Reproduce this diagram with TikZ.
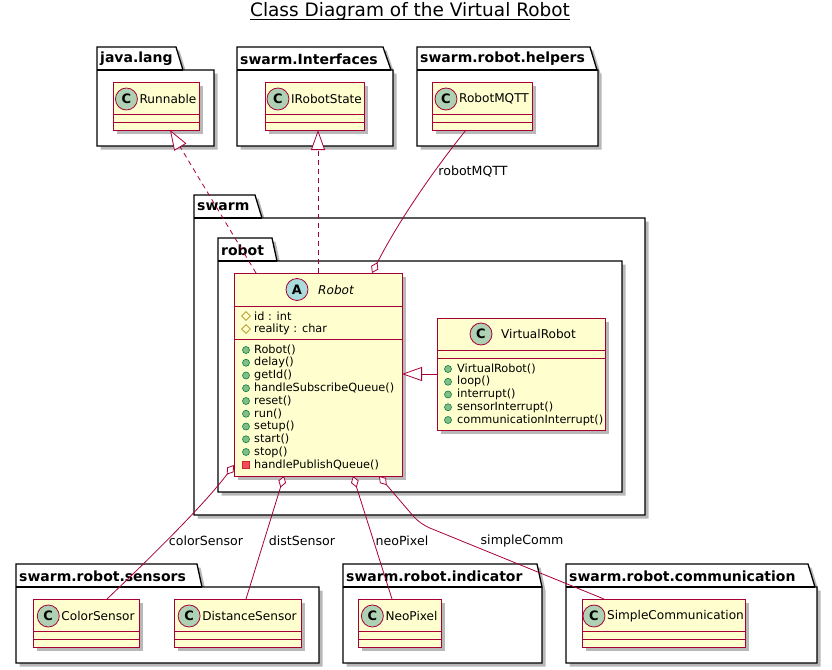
\documentclass[tikz,border=0pt]{standalone}
\usepackage{fontspec}
\setmainfont{DejaVu Sans}
\usetikzlibrary{arrows.meta,shadows,calc,shapes.geometric}
\definecolor{umlred}{HTML}{A80036}
\definecolor{umlfill}{HTML}{FEFECE}
\definecolor{circC}{HTML}{ADD1B2}
\definecolor{circA}{HTML}{A9DCDF}
\definecolor{protdraw}{HTML}{B38D22}
\definecolor{pubdraw}{HTML}{038048}
\definecolor{pubfill}{HTML}{84BE84}
\definecolor{privdraw}{HTML}{C82930}
\definecolor{privfill}{HTML}{F24D5C}
\newcommand\myfs[1]{\fontsize{#1}{#1}\selectfont}
\tikzset{
  shd/.style={drop shadow={shadow xshift=3.5pt, shadow yshift=-3.5pt, opacity=0.28, fill=black}},
  cls/.style={rectangle, draw=umlred, fill=umlfill, line width=0.9pt, inner sep=0pt, outer sep=0pt, anchor=north west, shd},
  sep/.style={draw=umlred, line width=0.9pt},
  cicon/.style={circle, draw=umlred, line width=0.8pt, minimum size=22pt, inner sep=0pt, font=\myfs{13}\bfseries},
  cname/.style={anchor=west, inner sep=0pt, font=\myfs{12.1}},
  member/.style={anchor=west, inner sep=0pt, font=\myfs{11.3}},
  pub/.style={circle, draw=pubdraw, fill=pubfill, minimum size=7pt, inner sep=0pt, line width=0.6pt},
  prot/.style={diamond, draw=protdraw, minimum size=9pt, inner sep=0pt, line width=0.7pt},
  priv/.style={rectangle, draw=privdraw, fill=privfill, minimum size=7pt, inner sep=0pt, line width=0.6pt},
  pkgline/.style={draw=black, line width=1.3pt, fill=white, shd},
  pkgedge/.style={draw=black, line width=1.3pt},
  pkglabel/.style={anchor=west, inner sep=0pt, font=\myfs{14}\bfseries},
  conn/.style={draw=umlred, line width=0.8pt},
  lbl/.style={inner sep=0pt, font=\myfs{12.6}},
  realize/.style={conn, dash pattern=on 5pt off 4pt, -{Triangle[open, fill=white, length=20pt, width=14pt]}},
  inherit/.style={conn, -{Triangle[open, fill=white, length=20pt, width=14pt]}},
  aggr/.style={conn, {Diamond[open, fill=white, length=12pt, width=8pt]}-},
}
% id, x0, tabtop, tab top-right, slant end, body top, right, bottom, label
\newcommand\umlpkg[9]{%
  \path[pkgline] (#2,#6) -- (#2,#3) -- (#4,#3) -- (#5,#6) -- (#7,#6) -- (#7,#8) -- (#2,#8) -- cycle;
  \draw[pkgedge] (#2,#6) -- (#5,#6);
  \node[pkglabel] (#1) at ({#2+3},{(#3+#6)/2+0.5}) {#9};
}
% id, x0, y0, width, name
\newcommand\smallcls[5]{%
  \node[cls, minimum width=#4pt, minimum height=48pt] (#1) at (#2,#3) {};
  \draw[sep] ($(#1.north west)+(0,32)$) -- ($(#1.north east)+(0,32)$);
  \draw[sep] ($(#1.north west)+(0,40)$) -- ($(#1.north east)+(0,40)$);
  \node[cname, anchor=center] (#1-name) at ($(#1.north)+(12,17)$) {#5};
  \node[cicon, fill=circC] (#1-icon) at ($(#1-name.west)+(-13,0)$) {C};
}
\begin{document}
\begin{tikzpicture}[x=1pt,y=-1pt]
\useasboundingbox (0,0) rectangle (832,669);

% title
\node[inner sep=0pt, anchor=base, font=\myfs{18.5}] (title) at (410,17) {Class Diagram of the Virtual Robot};
\draw[line width=0.9pt] ($(title.base west)+(0,2.5)$) -- ($(title.base east)+(0,2.5)$);

% packages
\umlpkg{pjava}{97}{47}{176}{183}{70}{214}{146}{java.lang}
\umlpkg{pintf}{237}{47}{383}{391}{70}{393}{146}{swarm.Interfaces}
\umlpkg{phelp}{417}{47}{590}{597}{70}{598}{146}{swarm.robot.helpers}
\umlpkg{pswarm}{194}{195}{255}{262}{218}{645}{515}{swarm}
\umlpkg{probot}{218}{238}{272}{277}{261}{622}{492}{robot}
\umlpkg{psens}{16}{564}{197}{202}{587}{319}{663}{swarm.robot.sensors}
\umlpkg{pind}{343}{564}{537}{542}{587}{542}{663}{swarm.robot.indicator}
\umlpkg{pcomm}{566}{564}{808}{815}{587}{817}{663}{swarm.robot.communication}

% small classes
\smallcls{Runnable}{113}{82}{86}{Runnable}
\smallcls{IRobotState}{265}{82}{99}{IRobotState}
\smallcls{RobotMQTT}{432}{82}{100}{RobotMQTT}
\smallcls{ColorSensor}{33}{599}{106}{ColorSensor}
\smallcls{DistanceSensor}{174}{599}{127}{DistanceSensor}
\smallcls{NeoPixel}{358}{599}{83}{NeoPixel}
\smallcls{SimpleCommunication}{582}{599}{163}{SimpleCommunication}

% Robot (abstract)
\node[cls, minimum width=168pt, minimum height=203pt] (Robot) at (234,273) {};
\draw[sep] ($(Robot.north west)+(0,33)$) -- ($(Robot.north east)+(0,33)$);
\draw[sep] ($(Robot.north west)+(0,66)$) -- ($(Robot.north east)+(0,66)$);
\node[cicon, fill=circA] (Robot-icon) at ($(Robot.north west)+(63,16.5)$) {A};
\node[cname, font=\myfs{12.1}\itshape] (Robot-name) at ($(Robot.north west)+(84,16.5)$) {Robot};
\node[prot] (rf0i) at (246,316) {};
\node[member] (rf0) at (254,316) {id : int};
\node[prot] (rf1i) at (246,329) {};
\node[member] (rf1) at (254,329) {reality : char};
\foreach \t [count=\i from 0] in {Robot(),delay(),getId(),handleSubscribeQueue(),reset(),run(),setup(),start(),stop()} {
  \node[pub] (rm\i i) at (246,{350+12.75*\i}) {};
  \node[member] (rm\i) at (254,{350+12.75*\i}) {\t};
}
\node[priv] (rm9i) at (246,464.75) {};
\node[member] (rm9) at (254,464.75) {handlePublishQueue()};

% VirtualRobot
\node[cls, minimum width=168pt, minimum height=112pt] (VirtualRobot) at (437,318) {};
\draw[sep] ($(VirtualRobot.north west)+(0,32)$) -- ($(VirtualRobot.north east)+(0,32)$);
\draw[sep] ($(VirtualRobot.north west)+(0,40)$) -- ($(VirtualRobot.north east)+(0,40)$);
\node[cicon, fill=circC] (VirtualRobot-icon) at ($(VirtualRobot.north west)+(44,16)$) {C};
\node[cname] (VirtualRobot-name) at ($(VirtualRobot.north west)+(64,16)$) {VirtualRobot};
\foreach \t [count=\i from 0] in {VirtualRobot(),loop(),interrupt(),sensorInterrupt(),communicationInterrupt()} {
  \node[pub] (vm\i i) at (448,{369+12.75*\i}) {};
  \node[member] (vm\i) at (457,{369+12.75*\i}) {\t};
}

% connectors
\draw[realize] ($(Robot.north west)+(22,0)$) -- ($(Runnable.south west)+(57,0)$);
\draw[realize] ($(Robot.north west)+(84,0)$) -- ($(IRobotState.south west)+(53,0)$);
\draw[inherit] ($(VirtualRobot.north west)+(0,56)$) -- ($(Robot.north east)+(0,101)$);
\draw[aggr] ($(Robot.north west)+(138,0)$) .. controls (395,228) and (426,180) .. ($(RobotMQTT.south west)+(34,0)$);
\draw[aggr] ($(Robot.north west)+(0,192)$) .. controls (204,505) and (149,559) .. ($(ColorSensor.north west)+(74,0)$);
\draw[aggr] ($(Robot.south west)+(50,0)$) -- ($(DistanceSensor.north west)+(72,0)$);
\draw[aggr] ($(Robot.south west)+(119,0)$) -- ($(NeoPixel.north west)+(34,0)$);
\coordinate (scbend) at (420,524);
\draw[aggr, rounded corners=10pt] ($(Robot.south west)+(145,0)$) -- (scbend) -- ($(SimpleCommunication.north west)+(22,0)$);

% connector labels
\node[lbl] (l-mqtt) at (473,172) {robotMQTT};
\node[lbl] (l-color) at (206,541) {colorSensor};
\node[lbl] (l-dist) at (302,541) {distSensor};
\node[lbl] (l-neo) at (402,541) {neoPixel};
\node[lbl] (l-comm) at (522,541) {simpleComm};
\end{tikzpicture}
\end{document}
